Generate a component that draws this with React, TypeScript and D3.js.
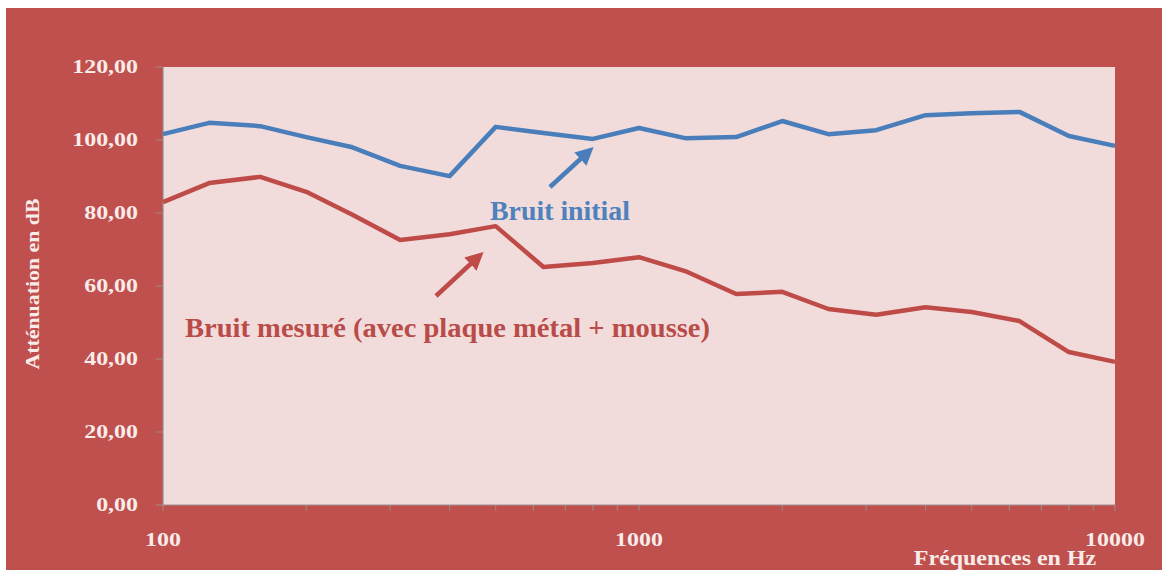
import React from "react";
import * as d3 from "d3";

const frequencies = [100, 125, 160, 200, 250, 315, 400, 500, 630, 800, 1000, 1250, 1600, 2000, 2500, 3150, 4000, 5000, 6300, 8000, 10000];
const bruitInitial = [101.6, 104.7, 103.8, 100.8, 98.0, 92.9, 90.1, 103.6, 101.9, 100.3, 103.3, 100.5, 100.8, 105.2, 101.6, 102.7, 106.8, 107.3, 107.7, 101.1, 98.4];
const bruitMesure = [83.0, 88.2, 89.9, 85.8, 79.5, 72.6, 74.2, 76.4, 65.2, 66.3, 67.9, 64.1, 57.8, 58.4, 53.7, 52.1, 54.2, 52.9, 50.4, 41.9, 39.2];
const yTicks = [0, 20, 40, 60, 80, 100, 120];
const xTickLabels = [100, 1000, 10000];

const W = 1162, H = 570;
const plot = { left: 163, right: 1115, top: 67, bottom: 505 };
const RED = "#c0504d";
const PLOT_BG = "#f2dcdb";
const BLUE = "#4a7ebb";
const LINE_RED = "#be4b48";
const TXT = "#f8ecea";
const FONT = "'Liberation Serif', 'Times New Roman', serif";
const SX = 1.33;

export default function App() {
  const x = d3.scaleLog().domain([100, 10000]).range([plot.left, plot.right]);
  const y = d3.scaleLinear().domain([0, 120]).range([plot.bottom, plot.top]);
  const line = d3.line<number>().x((_, i) => x(frequencies[i])).y((d) => y(d));
  const minorTicks = x.ticks();

  return (
    <svg width={W} height={H} style={{ position: "absolute", left: 0, top: 0 }}>
      <defs>
        <marker id="ahB" viewBox="0 0 10 10" refX="5" refY="5" markerWidth="4" markerHeight="4" orient="auto">
          <path d="M0,0 L10,5 L0,10 z" fill={BLUE} />
        </marker>
        <marker id="ahR" viewBox="0 0 10 10" refX="5" refY="5" markerWidth="4" markerHeight="4" orient="auto">
          <path d="M0,0 L10,5 L0,10 z" fill={LINE_RED} />
        </marker>
      </defs>
      <rect x={0} y={0} width={W} height={H} fill="#ffffff" />
      <rect x={6} y={8} width={W - 6} height={H - 8} fill={RED} />
      <rect x={plot.left} y={plot.top} width={plot.right - plot.left} height={plot.bottom - plot.top} fill={PLOT_BG} />
      {/* axes */}
      <line x1={plot.left} x2={plot.left} y1={plot.top} y2={plot.bottom} stroke="#8d8d8d" strokeWidth={1.2} />
      <line x1={plot.left} x2={plot.right} y1={plot.bottom} y2={plot.bottom} stroke="#9a8f8f" strokeWidth={1.2} />
      {yTicks.map((t) => (
        <g key={"y" + t}>
          <line x1={plot.left - 7} x2={plot.left} y1={y(t)} y2={y(t)} stroke="#a08a88" strokeWidth={1} />
          <g transform={`translate(138,${y(t) + 6}) scale(${SX},1)`}>
            <text x={0} y={0} textAnchor="end" fontFamily={FONT} fontWeight="bold" fontSize={18} fill={TXT}>
              {d3.format(".2f")(t).replace(".", ",")}
            </text>
          </g>
        </g>
      ))}
      {minorTicks.map((t, i) => (
        <line key={"xt" + i} x1={x(t)} x2={x(t)} y1={plot.bottom} y2={plot.bottom + 6} stroke="#a08a88" strokeWidth={1} />
      ))}
      {xTickLabels.map((t) => (
        <g key={"xl" + t} transform={`translate(${x(t)},546) scale(${SX},1)`}>
          <text x={0} y={0} textAnchor="middle" fontFamily={FONT} fontWeight="bold" fontSize={18} fill={TXT}>
            {t}
          </text>
        </g>
      ))}
      <g transform={`translate(1005,565) scale(1.2,1)`}>
        <text x={0} y={0} textAnchor="middle" fontFamily={FONT} fontWeight="bold" fontSize={20} fill={TXT}>
          Fréquences en Hz
        </text>
      </g>
      <g transform="translate(39,284) rotate(-90) scale(1.15,1)">
        <text x={0} y={0} textAnchor="middle" fontFamily={FONT} fontWeight="bold" fontSize={19} fill={TXT}>
          Atténuation en dB
        </text>
      </g>
      {/* series */}
      <path d={line(bruitInitial) || ""} fill="none" stroke={BLUE} strokeWidth={4.5} strokeLinejoin="round" />
      <path d={line(bruitMesure) || ""} fill="none" stroke={LINE_RED} strokeWidth={4.5} strokeLinejoin="round" />
      {/* annotations */}
      <line x1={550} y1={187} x2={587} y2={153} stroke={BLUE} strokeWidth={4.5} markerEnd="url(#ahB)" />
      <text x={490} y={220} fontFamily={FONT} fontWeight="bold" fontSize={27} fill="#4f81bd" textLength={140} lengthAdjust="spacingAndGlyphs">
        Bruit initial
      </text>
      <line x1={436} y1={296} x2={477} y2={258} stroke={LINE_RED} strokeWidth={4.5} markerEnd="url(#ahR)" />
      <text x={185} y={337} fontFamily={FONT} fontWeight="bold" fontSize={27} fill="#b94b49" textLength={525} lengthAdjust="spacingAndGlyphs">
        Bruit mesuré (avec plaque métal + mousse)
      </text>
    </svg>
  );
}
